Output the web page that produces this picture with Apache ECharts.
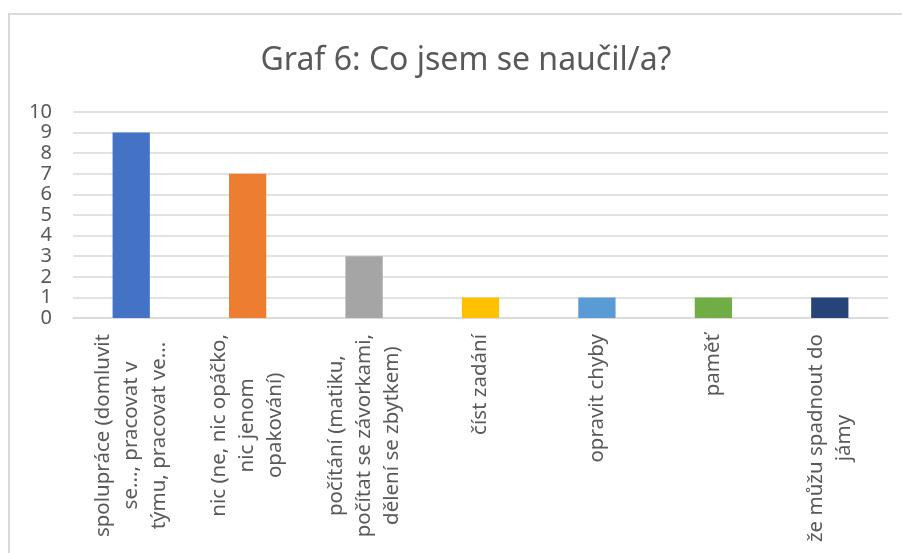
<!DOCTYPE html>
<html>
<head>
<meta charset="utf-8">
<script src="https://cdn.jsdelivr.net/npm/echarts@6/dist/echarts.min.js"></script>
<style>
  html, body { margin: 0; padding: 0; background: #ffffff; }
  #chart { width: 902px; height: 553px; }
</style>
</head>
<body>
<div id="chart"></div>
<script>
// kategorie (zalomení řádků jako v originálu)
var categories = [
  'spolupráce (domluvit\nse..., pracovat v\ntýmu, pracovat ve...',
  'nic (ne, nic opáčko,\nnic jenom\nopakování)',
  'počítání (matiku,\npočítat se závorkami,\ndělení se zbytkem)',
  'číst zadání',
  'opravit chyby',
  'paměť',
  'že můžu spadnout do\njámy'
]
var values = [9, 7, 3, 1, 1, 1, 1]
var yTicks = [0, 10, 1] // min, max, interval
var barColors = ['#4472C4', '#ED7D31', '#A5A5A5', '#FFC000', '#5B9BD5', '#70AD47', '#264478']

var myChart = echarts.init(document.getElementById('chart'))
var font = '"Noto Sans", sans-serif'
var option = {
  backgroundColor: '#ffffff',
  color: barColors,
  animation: false,
  title: {
    text: 'Graf 6: Co jsem se naučil/a?',
    left: 461,
    top: 40,
    textAlign: 'center',
    textStyle: {
      fontFamily: font,
      fontSize: 32,
      fontWeight: 'normal',
      color: '#595959'
    }
  },
  graphic: [
    {
      type: 'rect',
      shape: { x: 9, y: 14, width: 1000, height: 1000 },
      style: { fill: 'none', stroke: '#D9D9D9', lineWidth: 2 },
      silent: true
    }
  ],
  grid: {
    left: 73,
    right: 14,
    top: 112,
    bottom: 235,
    containLabel: false
  },
  xAxis: {
    type: 'category',
    data: categories,
    axisLine: { show: true, lineStyle: { color: '#D9D9D9', width: 1.5 } },
    axisTick: { show: false },
    axisLabel: {
      interval: 0,
      rotate: 90,
      margin: 16,
      color: '#595959',
      fontFamily: font,
      fontSize: 20.5,
      lineHeight: 28,
      formatter: function(value) {
        return value.split('\n').map(function(l) { return '{c|' + l + '}' }).join('\n')
      },
      rich: {
        c: {
          align: 'center',
          color: '#595959',
          fontFamily: font,
          fontSize: 20.5,
          lineHeight: 28
        }
      }
    }
  },
  yAxis: {
    type: 'value',
    min: yTicks[0],
    max: yTicks[1],
    interval: yTicks[2],
    axisLine: { show: false },
    axisTick: { show: false },
    splitLine: { lineStyle: { color: '#D9D9D9', width: 1.5 } },
    axisLabel: {
      margin: 21,
      color: '#595959',
      fontFamily: font,
      fontSize: 20,
      showMinLabel: true,
      showMaxLabel: true
    }
  },
  series: [
    {
      type: 'bar',
      colorBy: 'data',
      barWidth: '32%',
      data: values
    }
  ]
}
myChart.setOption(option, true)
</script>
</body>
</html>
